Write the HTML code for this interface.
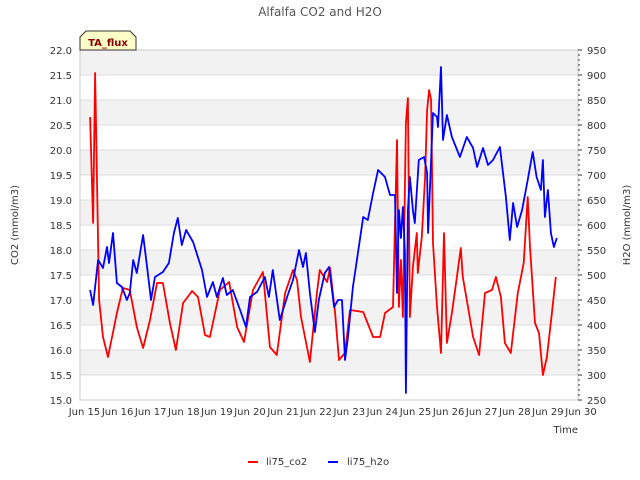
<!DOCTYPE html>
<html><head><meta charset="utf-8"><style>
body{margin:0;background:#fff;}
svg{display:block;font-family:"DejaVu Sans","Liberation Sans",sans-serif;}
</style></head><body>
<svg id="chart" width="640" height="480" viewBox="0 0 640 480">
<g id="bands"></g>
<g id="grid"></g>
<rect x="80" y="50" width="498" height="350" fill="none" stroke="#ccc" stroke-width="1"/>
<g id="series"></g>
<g id="axes" font-size="10" fill="#333"></g>
<text x="320" y="16" text-anchor="middle" font-size="12" fill="#555">Alfalfa CO2 and H2O</text>
<text transform="translate(18,225) rotate(-90)" text-anchor="middle" font-size="10" fill="#333">CO2 (mmol/m3)</text>
<text transform="translate(630,225) rotate(-90)" text-anchor="middle" font-size="10" fill="#333">H2O (mmol/m3)</text>
<text x="578" y="433" text-anchor="end" font-size="10" fill="#333">Time</text>
<g>
<path d="M80,50 L80,37 L86,31 L130,31 L136,37 L136,50 Z" fill="#ffffc8" stroke="#333" stroke-width="1"/>
<text x="108" y="46" text-anchor="middle" font-size="10" font-weight="bold" fill="#8b0000">TA_flux</text>
</g>
<g font-size="10" fill="#333">
<line x1="248" y1="462" x2="258" y2="462" stroke="#f00" stroke-width="2"/>
<text x="266" y="465">li75_co2</text>
<line x1="328" y1="462" x2="338" y2="462" stroke="#00f" stroke-width="2"/>
<text x="347" y="465">li75_h2o</text>
</g>
</svg>
<script>
const xTickLabels=["Jun 15","Jun 16","Jun 17","Jun 18","Jun 19","Jun 20","Jun 21","Jun 22","Jun 23","Jun 24","Jun 25","Jun 26","Jun 27","Jun 28","Jun 29","Jun 30"];
const xTickDays=[15,16,17,18,19,20,21,22,23,24,25,26,27,28,29,30];
const leftTicks=[15.0,15.5,16.0,16.5,17.0,17.5,18.0,18.5,19.0,19.5,20.0,20.5,21.0,21.5,22.0];
const rightTicks=[250,300,350,400,450,500,550,600,650,700,750,800,850,900,950];
const co2Days=[15.17,15.26,15.32,15.38,15.44,15.56,15.71,15.98,16.16,16.37,16.58,16.77,16.98,17.19,17.37,17.58,17.76,17.98,18.25,18.43,18.64,18.79,19.09,19.37,19.61,19.82,20.09,20.39,20.6,20.81,21.06,21.3,21.42,21.54,21.81,22.02,22.11,22.33,22.42,22.57,22.69,22.87,23.02,23.42,23.72,23.93,24.08,24.32,24.44,24.5,24.56,24.62,24.71,24.77,24.83,24.92,25.04,25.07,25.19,25.29,25.35,25.41,25.47,25.53,25.65,25.77,25.86,25.95,26.1,26.25,26.37,26.43,26.55,26.74,26.92,27.1,27.31,27.43,27.58,27.7,27.88,28.09,28.27,28.39,28.46,28.61,28.73,28.85,28.97,29.12,29.24];
const co2Vals=[20.66,18.54,21.54,19.26,17.0,16.26,15.86,16.74,17.24,17.2,16.46,16.04,16.6,17.34,17.34,16.54,16.0,16.94,17.18,17.06,16.3,16.26,17.2,17.36,16.46,16.16,17.2,17.56,16.06,15.9,17.14,17.6,17.4,16.66,15.76,17.14,17.6,17.36,17.64,16.74,15.8,15.94,16.8,16.76,16.26,16.26,16.74,16.86,20.2,16.86,17.8,16.66,20.54,21.04,16.66,17.66,18.34,17.54,18.26,19.46,20.8,21.2,21.0,18.14,16.86,15.94,18.34,16.14,16.74,17.46,18.04,17.46,17.0,16.26,15.9,17.14,17.2,17.46,17.06,16.14,15.94,17.14,17.74,19.06,18.06,16.54,16.34,15.5,15.86,16.74,17.46];
const h2oDays=[15.17,15.26,15.32,15.41,15.56,15.68,15.74,15.86,15.98,16.13,16.28,16.37,16.47,16.58,16.77,16.89,17.01,17.13,17.37,17.55,17.7,17.82,17.94,18.07,18.28,18.55,18.7,18.88,19.0,19.18,19.3,19.48,19.7,19.88,20.0,20.21,20.45,20.57,20.69,20.9,21.12,21.3,21.48,21.6,21.69,21.81,21.96,22.08,22.26,22.39,22.54,22.66,22.78,22.87,22.96,23.11,23.23,23.42,23.56,23.72,23.87,24.08,24.23,24.38,24.44,24.5,24.56,24.62,24.68,24.71,24.77,24.83,24.92,24.98,25.1,25.26,25.35,25.38,25.47,25.53,25.65,25.68,25.77,25.83,25.95,26.1,26.34,26.55,26.74,26.86,27.04,27.19,27.34,27.55,27.73,27.85,27.95,28.07,28.22,28.39,28.54,28.66,28.79,28.85,28.91,29.0,29.09,29.18,29.27];
const h2oVals=[470,440,476,530,514,556,524,584,484,476,450,464,530,504,580,516,450,496,506,524,584,614,560,590,566,510,456,486,456,494,460,470,430,396,456,466,496,456,510,410,456,490,550,516,544,464,386,450,504,516,436,450,450,330,376,476,530,616,610,664,710,696,660,660,464,630,574,636,544,264,630,696,630,604,730,736,704,584,730,824,816,796,916,770,820,776,736,776,754,716,754,720,730,756,656,570,644,596,630,690,746,696,670,730,616,670,584,556,574];

const NS="http://www.w3.org/2000/svg";
const X0=80,X1=578,Y0=50,Y1=400;
function xs(d){return 84.5+(d-15)*33.1;}
function yl(v){return Y1-(v-15)/7*(Y1-Y0);}
function yr(v){return Y1-(v-250)/700*(Y1-Y0);}
function mk(tag,attrs,parent){const e=document.createElementNS(NS,tag);for(const k in attrs)e.setAttribute(k,attrs[k]);parent.appendChild(e);return e;}
const bands=document.getElementById('bands'),grid=document.getElementById('grid'),axes=document.getElementById('axes'),series=document.getElementById('series');
for(let i=0;i<leftTicks.length-1;i++){
  if((leftTicks.length-2-i)%2===0){
    const r=mk('rect',{x:X0,y:yl(leftTicks[i+1]),width:X1-X0,height:yl(leftTicks[i])-yl(leftTicks[i+1]),fill:'#f2f2f2'},bands);
    
    
  }
}
leftTicks.forEach(v=>{
  const l=mk('line',{x1:X0,x2:X1,y1:yl(v),y2:yl(v),stroke:'#ddd','stroke-width':1},grid);
  
  
  const t=mk('text',{x:72,y:yl(v)+4,'text-anchor':'end'},axes);
  t.textContent=v.toFixed(1);
  
  
});
rightTicks.forEach(v=>{
  const t=mk('text',{x:587,y:yr(v)+4},axes);
  t.textContent=v;
  
  
});
for(let v=250;v<=950;v+=10){
  const tk=mk('line',{x1:X1,x2:X1+(v%50===0?4:2),y1:yr(v),y2:yr(v),stroke:'#333','stroke-width':1},axes);
  
  
}
xTickDays.forEach((d,i)=>{
  const t=mk('text',{x:xs(d),y:415,'text-anchor':'middle'},axes);
  t.textContent=xTickLabels[i];
  
  
});
const co2Path=mk('polyline',{points:co2Days.map((d,i)=>xs(d).toFixed(1)+','+yl(co2Vals[i]).toFixed(1)).join(' '),fill:'none',stroke:'#f00','stroke-width':1.8,'stroke-linejoin':'round'},series);


const h2oPath=mk('polyline',{points:h2oDays.map((d,i)=>xs(d).toFixed(1)+','+yr(h2oVals[i]).toFixed(1)).join(' '),fill:'none',stroke:'#00f','stroke-width':1.8,'stroke-linejoin':'round'},series);


</script>
</body></html>
